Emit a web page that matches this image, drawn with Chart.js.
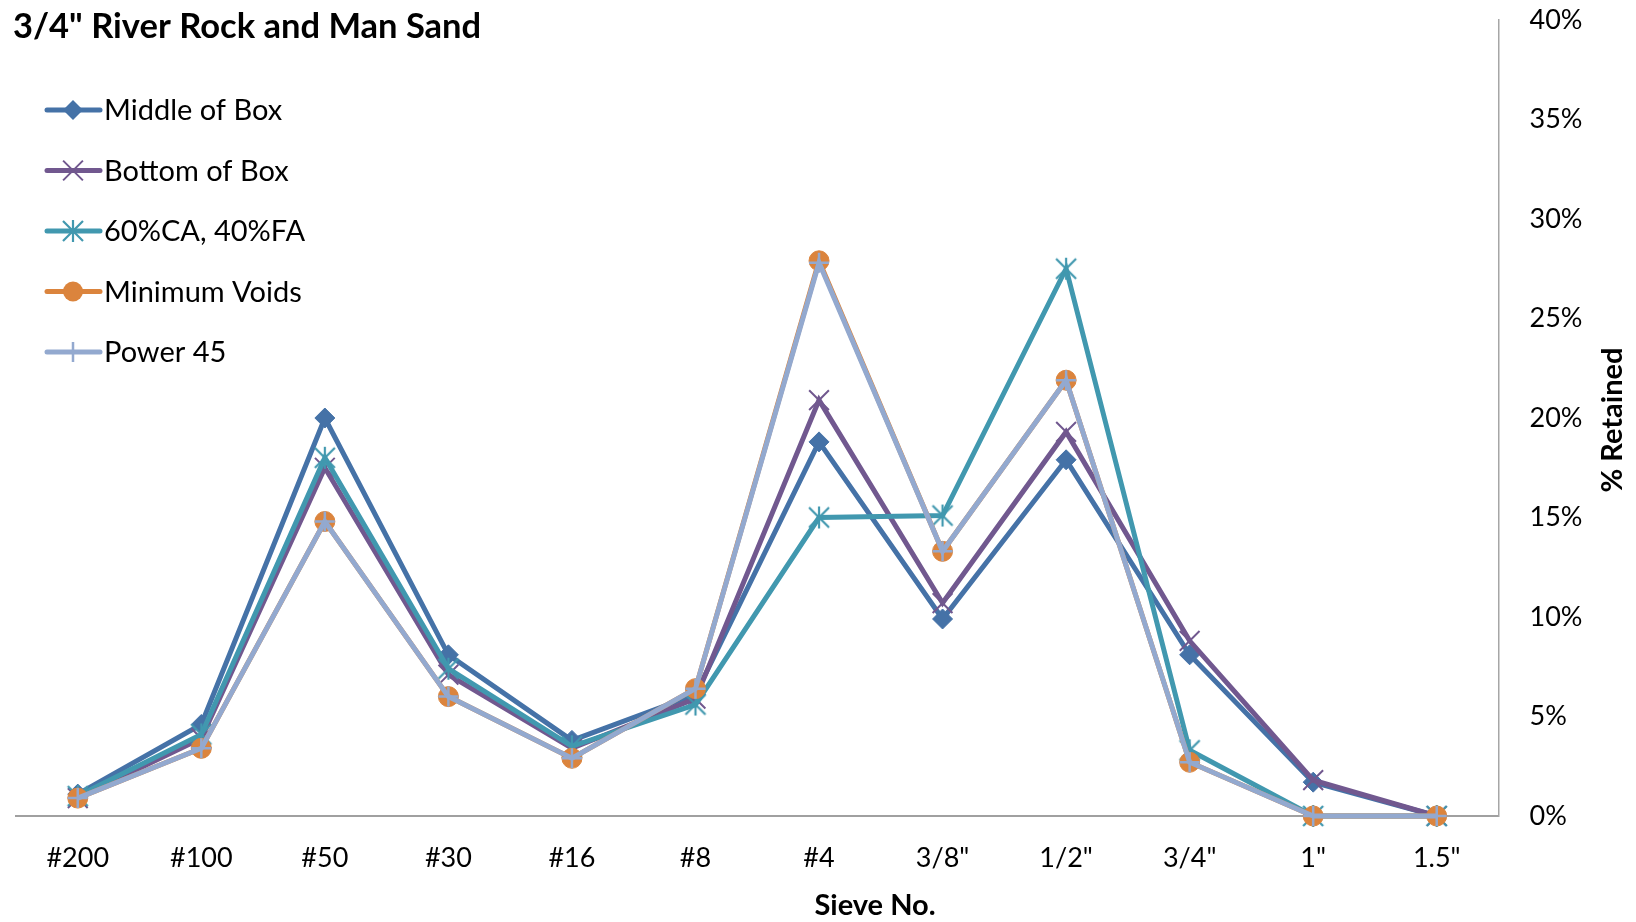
<!DOCTYPE html>
<html><head><meta charset="utf-8">
<script src="https://cdn.jsdelivr.net/npm/chart.js@4.4.1/dist/chart.umd.min.js"></script>
<style>html,body{margin:0;padding:0;background:#fff;overflow:hidden}#wrap{width:1636px;height:922px;position:relative}</style>
</head><body><div id="wrap"><canvas id="c" width="1636" height="922"></canvas></div>
<script>
const chartTitle = '3/4" River Rock and Man Sand';
const xAxisTitle = 'Sieve No.';
const yAxisTitle = '% Retained';
const sieves = ['#200','#100','#50','#30','#16','#8','#4','3/8"','1/2"','3/4"','1"','1.5"'];
const seriesNames = ['Middle of Box','Bottom of Box','60%CA, 40%FA','Minimum Voids','Power 45'];
const middleOfBox  = [1.1, 4.6, 20.0, 8.1, 3.8, 6.1, 18.8, 9.9, 17.9, 8.1, 1.7, 0];
const bottomOfBox  = [0.9, 3.9, 17.5, 7.1, 3.4, 5.9, 20.9, 10.7, 19.3, 8.8, 1.8, 0];
const ca60fa40     = [1.0, 4.1, 18.0, 7.4, 3.5, 5.6, 15.0, 15.1, 27.5, 3.3, 0, 0];
const minimumVoids = [0.9, 3.4, 14.8, 6.0, 2.9, 6.4, 27.9, 13.3, 21.9, 2.7, 0, 0];
const power45      = [0.9, 3.4, 14.8, 6.0, 2.9, 6.4, 27.8, 13.3, 21.9, 2.7, 0, 0];
const yMin = 0, yMax = 40, yStep = 5;

const seriesValues = [middleOfBox, bottomOfBox, ca60fa40, minimumVoids, power45];
const colors = ['#4572A7', '#71588F', '#4198AF', '#DB843D', '#93A9CF'];
const FONT = 'Lato, "Open Sans", sans-serif';

// asterisk marker (X with vertical bar), as in the original
function makeAsterisk(color) {
  const cv = document.createElement('canvas');
  cv.width = 26; cv.height = 26;
  const g = cv.getContext('2d');
  g.strokeStyle = color; g.lineWidth = 2.2;
  g.beginPath();
  g.moveTo(3,3); g.lineTo(23,23);
  g.moveTo(23,3); g.lineTo(3,23);
  g.moveTo(13,2); g.lineTo(13,24);
  g.stroke();
  return cv;
}
const asterisk = makeAsterisk(colors[2]);

const styles = [
  {pointStyle:'rectRot', radius:10, bw:1},
  {pointStyle:'crossRot', radius:14, bw:2},
  {pointStyle:asterisk, radius:10, bw:2},
  {pointStyle:'circle', radius:10, bw:1},
  {pointStyle:'cross', radius:10, bw:2.5}
];

const datasets = seriesNames.map((name, i) => ({
  label: name,
  data: seriesValues[i],
  borderColor: colors[i],
  backgroundColor: colors[i],
  borderWidth: 5,
  pointStyle: styles[i].pointStyle,
  pointRadius: styles[i].radius,
  pointHoverRadius: styles[i].radius,
  pointBorderWidth: styles[i].bw,
  pointBorderColor: colors[i],
  pointBackgroundColor: colors[i],
  tension: 0,
  clip: false,
  order: 5 - i
}));

function drawMarker(ctx, i, x, y) {
  const s = styles[i], c = colors[i], r = s.radius;
  ctx.save();
  ctx.strokeStyle = c; ctx.fillStyle = c; ctx.lineWidth = s.bw;
  ctx.beginPath();
  if (s.pointStyle === 'rectRot') {
    ctx.moveTo(x-r,y); ctx.lineTo(x,y-r); ctx.lineTo(x+r,y); ctx.lineTo(x,y+r); ctx.closePath(); ctx.fill();
  } else if (s.pointStyle === 'circle') {
    ctx.arc(x,y,r,0,Math.PI*2); ctx.fill();
  } else if (s.pointStyle === 'crossRot') {
    const d = r*Math.SQRT1_2;
    ctx.moveTo(x-d,y-d); ctx.lineTo(x+d,y+d); ctx.moveTo(x+d,y-d); ctx.lineTo(x-d,y+d); ctx.stroke();
  } else if (s.pointStyle === 'cross') {
    ctx.moveTo(x,y-r); ctx.lineTo(x,y+r); ctx.moveTo(x-r,y); ctx.lineTo(x+r,y); ctx.stroke();
  } else {
    ctx.drawImage(s.pointStyle, x-13, y-13);
  }
  ctx.restore();
}

const overlay = {
  id: 'overlay',
  afterDraw(chart) {
    const ctx = chart.ctx;
    ctx.save();
    ctx.fillStyle = '#000';
    ctx.font = 'bold 34.5px ' + FONT;
    ctx.textAlign = 'left'; ctx.textBaseline = 'alphabetic';
    ctx.fillText(chartTitle, 13, 38);
    ctx.font = 'bold 29px ' + FONT;
    ctx.textAlign = 'center'; ctx.textBaseline = 'middle';
    ctx.fillText(xAxisTitle, 875, 906);
    ctx.save();
    ctx.translate(1613, 420); ctx.rotate(-Math.PI/2);
    ctx.fillText(yAxisTitle, 0, 0);
    ctx.restore();
    // legend
    ctx.font = '29px ' + FONT;
    ctx.textAlign = 'left'; ctx.textBaseline = 'middle';
    seriesNames.forEach((name, i) => {
      const y = 110 + i * 60.5;
      ctx.save();
      ctx.strokeStyle = colors[i]; ctx.lineWidth = 5; ctx.lineCap = 'round';
      ctx.beginPath(); ctx.moveTo(47, y); ctx.lineTo(100, y); ctx.stroke();
      ctx.restore();
      drawMarker(ctx, i, 73, y);
      ctx.fillStyle = '#000';
      ctx.fillText(name, 104, y + 1);
    });
    ctx.restore();
  }
};

new Chart(document.getElementById('c'), {
  type: 'line',
  data: { labels: sieves, datasets },
  options: {
    responsive: false,
    animation: false,
    layout: { padding: { left: 12, top: 20, right: 0, bottom: 0 } },
    plugins: { legend: { display: false }, title: { display: false }, tooltip: { enabled: false } },
    scales: {
      x: {
        offset: true,
        grid: { display: false, drawTicks: false },
        border: { display: true, color: '#A0A0A0', width: 2 },
        ticks: { color: '#000', font: { family: FONT, size: 27 }, padding: 26, maxRotation: 0, autoSkip: false },
        afterFit(s) { s.height = 106; s.paddingLeft = 0; s.paddingRight = 0; }
      },
      y: {
        position: 'right',
        min: yMin, max: yMax,
        grid: { display: false, drawTicks: false },
        border: { display: true, color: '#A6A6A6', width: 1.5 },
        ticks: { stepSize: yStep, color: '#000', font: { family: FONT, size: 27 }, padding: 31,
                 callback: v => v + '%' },
        afterFit(s) { s.width = 137.5; s.paddingTop = 0; s.paddingBottom = 0; }
      }
    }
  },
  plugins: [overlay]
});
</script></body></html>
